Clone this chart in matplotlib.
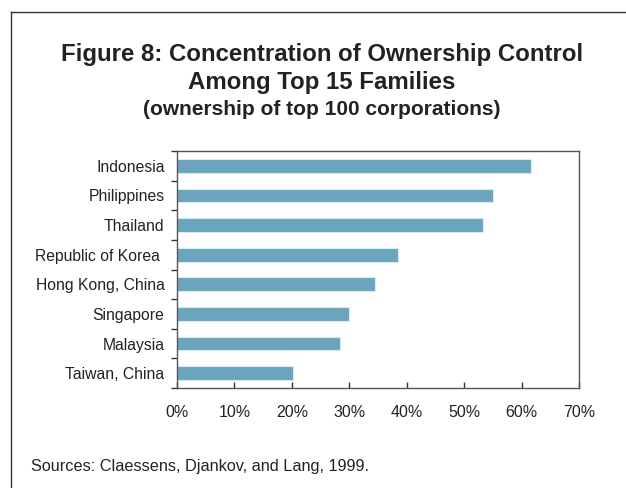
import matplotlib
matplotlib.use("Agg")
import matplotlib.pyplot as plt
from matplotlib.lines import Line2D
from matplotlib.ticker import FixedLocator, FuncFormatter

countries = ["Indonesia", "Philippines", "Thailand", "Republic of Korea ",
             "Hong Kong, China", "Singapore", "Malaysia", "Taiwan, China"]
share = [61.7, 55.1, 53.3, 38.4, 34.4, 29.9, 28.3, 20.2]
x_ticks = [0, 10, 20, 30, 40, 50, 60, 70]

plt.rcParams["font.family"] = ["Liberation Sans", "DejaVu Sans"]

W, H = 626, 488
fig = plt.figure(figsize=(W / 100, H / 100), dpi=100)
fig.patch.set_facecolor("white")

# outer frame (left and top edges)
fig.add_artist(Line2D([11 / W, 11 / W], [0, 1 - 12 / H], color="#333333", lw=1.0))
fig.add_artist(Line2D([11 / W, 1], [1 - 12 / H, 1 - 12 / H], color="#333333", lw=1.0))

left, right, top, bottom = 177, 579, 151, 388
ax = fig.add_axes([left / W, 1 - bottom / H, (right - left) / W, (bottom - top) / H])

n = len(countries)
ypos = list(range(n))
ax.barh(ypos, share, height=0.46, color="#6aa5bd", edgecolor="#d8ecf3", linewidth=0.8)
ax.set_ylim(n - 0.5, -0.5)
ax.set_xlim(0, 70)

ax.xaxis.set_major_locator(FixedLocator(x_ticks))
ax.xaxis.set_major_formatter(FuncFormatter(lambda v, p: f"{int(v)}%"))
ax.set_yticks(ypos)
ax.set_yticklabels(countries)
ax.yaxis.set_minor_locator(FixedLocator([i + 0.5 for i in range(-1, n)]))

ax.tick_params(axis="y", which="major", length=0, pad=9, labelsize=11.3, labelcolor="#222222")
ax.tick_params(axis="y", which="minor", length=4, direction="out", color="#333333", width=1)
ax.tick_params(axis="x", which="major", length=4, direction="in", color="#333333", width=1,
               pad=12, labelsize=11.5, labelcolor="#222222")
for s in ax.spines.values():
    s.set_color("#555555")
    s.set_linewidth(1.0)

tx = 322 / W
fig.text(tx, 1 - 61 / H, "Figure 8: Concentration of Ownership Control",
         ha="center", va="baseline", fontsize=17.3, fontweight="bold", color="#222222")
fig.text(tx, 1 - 89 / H, "Among Top 15 Families",
         ha="center", va="baseline", fontsize=17.3, fontweight="bold", color="#222222")
fig.text(tx, 1 - 115 / H, "(ownership of top 100 corporations)",
         ha="center", va="baseline", fontsize=15, fontweight="bold", color="#222222")
fig.text(31 / W, 1 - 466 / H, "Sources: Claessens, Djankov, and Lang, 1999.",
         ha="left", va="center", fontsize=11.7, color="#222222")

fig.savefig("out.png", dpi=100, facecolor="white")
